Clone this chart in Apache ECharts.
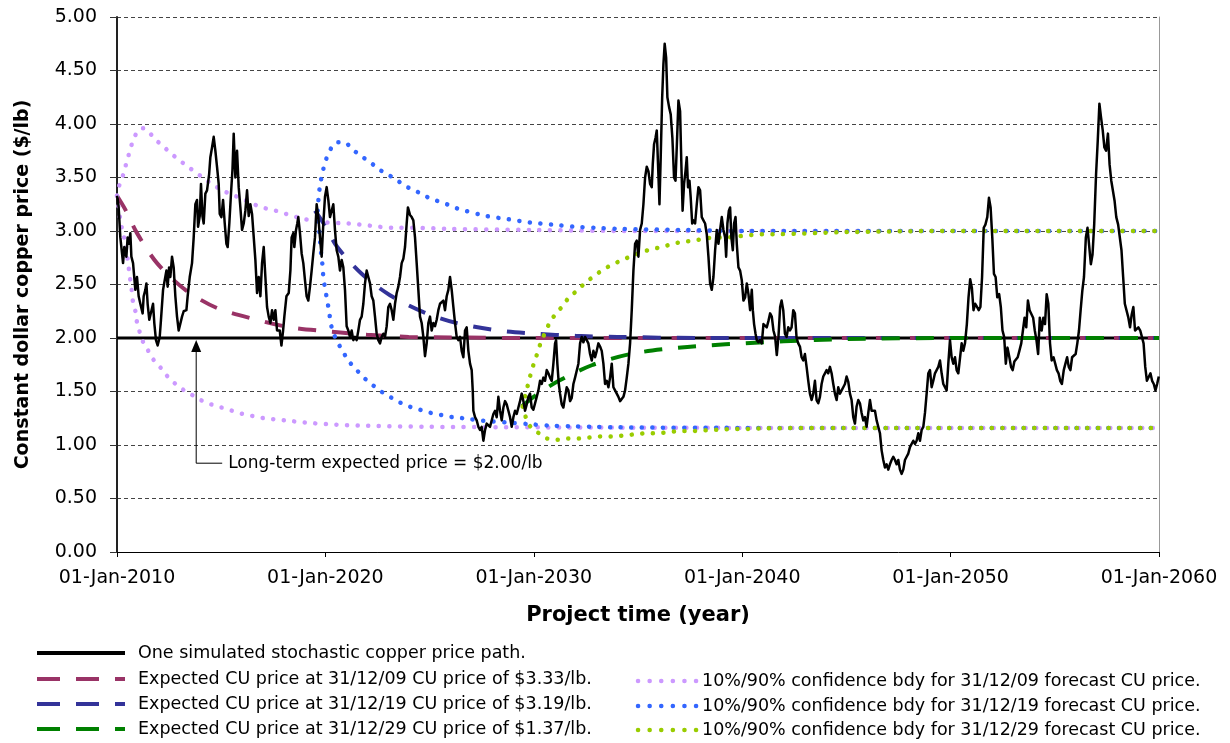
<!DOCTYPE html>
<html>
<head>
<meta charset="utf-8">
<script src="https://cdn.jsdelivr.net/npm/echarts@6/dist/echarts.min.js"></script>
<style>
  html, body { margin: 0; padding: 0; background: #fff; }
  #chart { width: 1230px; height: 743px; }
</style>
</head>
<body>
<div id="chart"></div>
<script>
// one simulated price path, [year, $/lb]
const pricePath = [
  [2010.00,3.33],[2010.03,3.30],[2010.08,3.22],[2010.16,2.94],[2010.29,2.70],[2010.35,2.85],[2010.45,2.76],[2010.51,2.94],[2010.58,2.88],[2010.64,2.98],[2010.69,2.76],[2010.77,2.70],[2010.88,2.45],[2010.96,2.57],[2011.04,2.39],[2011.12,2.32],[2011.23,2.23],[2011.28,2.39],[2011.36,2.45],[2011.41,2.51],[2011.47,2.32],[2011.55,2.17],[2011.63,2.17],[2011.73,2.32],[2011.79,2.14],[2011.87,1.98],[2011.95,1.93],[2012.05,2.01],[2012.11,2.17],[2012.21,2.45],[2012.29,2.54],[2012.37,2.63],[2012.43,2.48],[2012.50,2.66],[2012.56,2.57],[2012.64,2.76],[2012.72,2.66],[2012.80,2.39],[2012.88,2.20],[2012.96,2.07],[2013.04,2.06],[2013.12,2.20],[2013.20,2.25],[2013.33,2.26],[2013.39,2.39],[2013.49,2.57],[2013.60,2.70],[2013.68,2.94],[2013.76,3.25],[2013.84,3.29],[2013.89,3.04],[2013.97,3.14],[2014.03,3.44],[2014.10,3.14],[2014.16,3.07],[2014.24,3.35],[2014.32,3.38],[2014.42,3.53],[2014.48,3.69],[2014.56,3.78],[2014.64,3.88],[2014.72,3.75],[2014.80,3.60],[2014.88,3.44],[2014.93,3.16],[2015.01,3.13],[2015.09,3.29],[2015.17,3.07],[2015.25,2.88],[2015.31,2.85],[2015.39,3.07],[2015.47,3.35],[2015.54,3.57],[2015.60,3.91],[2015.68,3.50],[2015.76,3.75],[2015.84,3.41],[2015.92,3.22],[2016.00,3.01],[2016.08,3.07],[2016.16,3.19],[2016.24,3.38],[2016.32,3.14],[2016.40,3.25],[2016.48,3.16],[2016.56,3.17],[2016.64,2.73],[2016.72,2.42],[2016.80,2.57],[2016.88,2.39],[2016.96,2.70],[2017.04,2.85],[2017.12,2.57],[2017.20,2.29],[2017.28,2.20],[2017.36,2.14],[2017.44,2.26],[2017.52,2.17],[2017.60,2.26],[2017.68,2.07],[2017.81,2.07],[2017.89,1.93],[2017.97,2.07],[2018.03,2.20],[2018.13,2.39],[2018.24,2.42],[2018.32,2.63],
  [2018.38,2.94],[2018.46,2.98],[2018.51,2.85],[2018.59,3.01],[2018.65,3.07],[2018.70,3.13],[2018.78,2.98],[2018.86,2.79],[2018.94,2.70],[2019.02,2.54],[2019.10,2.39],[2019.18,2.35],[2019.26,2.48],[2019.34,2.63],[2019.42,2.79],[2019.50,2.94],[2019.58,3.25],[2019.66,3.13],[2019.74,2.94],[2019.82,2.76],[2019.90,3.07],[2019.98,3.32],[2020.06,3.41],[2020.14,3.29],[2020.22,3.13],[2020.30,3.13],[2020.38,3.25],[2020.46,3.01],[2020.54,2.82],[2020.62,2.76],[2020.70,2.63],[2020.78,2.73],[2020.86,2.66],[2020.94,2.45],[2021.02,2.11],[2021.10,2.07],[2021.18,2.01],[2021.26,2.07],[2021.34,1.98],[2021.42,2.01],[2021.50,1.98],[2021.58,2.07],[2021.66,2.17],[2021.74,2.20],[2021.82,2.32],[2021.90,2.51],[2021.98,2.63],[2022.06,2.57],[2022.14,2.51],[2022.22,2.39],[2022.30,2.35],[2022.38,2.20],[2022.46,2.04],[2022.54,1.98],[2022.62,1.95],[2022.70,2.01],[2022.78,2.04],[2022.86,2.01],[2022.94,2.11],[2023.02,2.29],[2023.10,2.32],[2023.18,2.26],[2023.26,2.17],[2023.34,2.32],[2023.42,2.42],[2023.50,2.48],[2023.58,2.57],[2023.66,2.70],[2023.74,2.74],[2023.82,2.85],[2023.90,3.07],[2023.96,3.22],[2024.06,3.15],[2024.14,3.13],[2024.22,3.10],[2024.30,2.94],[2024.38,2.70],[2024.46,2.45],[2024.54,2.20],[2024.62,2.14],[2024.70,2.01],[2024.78,1.83],[2024.86,1.95],[2024.94,2.14],[2025.02,2.20],[2025.10,2.07],[2025.18,2.14],[2025.26,2.11],[2025.34,2.17],[2025.42,2.26],[2025.50,2.32],[2025.58,2.32],[2025.66,2.35],[2025.74,2.26],[2025.82,2.39],[2025.90,2.45],[2025.98,2.57],[2026.06,2.45],[2026.14,2.29],[2026.22,2.14],[2026.30,2.01],[2026.38,1.98],[2026.46,2.01],
  [2026.54,1.88],[2026.62,1.82],[2026.70,2.07],[2026.78,2.10],[2026.86,1.88],[2026.94,1.76],[2027.02,1.70],[2027.07,1.51],[2027.10,1.32],[2027.18,1.26],[2027.26,1.23],[2027.34,1.17],[2027.42,1.14],[2027.50,1.17],[2027.58,1.04],[2027.66,1.14],[2027.74,1.20],[2027.82,1.19],[2027.90,1.17],[2027.98,1.16],[2028.06,1.29],[2028.14,1.32],[2028.22,1.26],[2028.30,1.45],[2028.38,1.32],[2028.46,1.23],[2028.54,1.35],[2028.62,1.41],[2028.70,1.38],[2028.78,1.32],[2028.86,1.26],[2028.94,1.17],[2029.02,1.26],[2029.10,1.32],[2029.18,1.29],[2029.26,1.35],[2029.34,1.41],[2029.42,1.48],[2029.50,1.41],[2029.58,1.32],[2029.66,1.38],[2029.74,1.45],[2029.82,1.48],[2029.90,1.35],[2029.98,1.33],[2030.06,1.32],[2030.14,1.45],[2030.22,1.51],[2030.30,1.60],[2030.38,1.57],[2030.46,1.63],[2030.54,1.60],[2030.62,1.70],[2030.70,1.67],[2030.78,1.63],[2030.86,1.60],[2030.94,1.76],[2031.02,1.95],[2031.07,1.98],[2031.13,1.76],[2031.20,1.57],[2031.26,1.48],[2031.34,1.38],[2031.42,1.35],[2031.50,1.45],[2031.58,1.54],[2031.66,1.51],[2031.74,1.41],[2031.82,1.44],[2031.90,1.57],[2031.98,1.63],[2032.06,1.63],[2032.14,1.76],[2032.22,1.95],[2032.30,2.01],[2032.38,1.96],[2032.46,2.01],[2032.54,2.02],[2032.62,1.95],[2032.70,1.85],[2032.78,1.79],[2032.86,1.88],[2032.94,1.82],[2033.02,1.88],[2033.10,1.95],[2033.18,1.92],[2033.26,1.88],[2033.34,1.76],[2033.42,1.57],[2033.50,1.60],[2033.58,1.54],[2033.66,1.63],[2033.74,1.76],[2033.82,1.54],[2033.90,1.51],[2033.98,1.51],[2034.06,1.45],[2034.14,1.41],[2034.22,1.41],[2034.30,1.45],[2034.38,1.51],[2034.46,1.63],[2034.54,1.76],[2034.62,1.95],
  [2034.70,2.26],[2034.78,2.63],[2034.86,2.88],[2034.94,2.91],[2035.02,2.76],[2035.10,3.01],[2035.18,3.07],[2035.26,3.25],[2035.34,3.50],[2035.42,3.60],[2035.50,3.56],[2035.58,3.44],[2035.66,3.41],[2035.71,3.63],[2035.77,3.81],[2035.84,3.87],[2035.90,3.94],[2035.96,3.63],[2036.03,3.25],[2036.09,3.69],[2036.16,4.25],[2036.22,4.56],[2036.28,4.75],[2036.35,4.62],[2036.41,4.25],[2036.49,4.16],[2036.57,4.09],[2036.65,3.87],[2036.73,3.50],[2036.80,3.47],[2036.86,3.78],[2036.94,4.22],[2037.02,4.12],[2037.08,3.63],[2037.14,3.19],[2037.21,3.44],[2037.28,3.56],[2037.34,3.69],[2037.40,3.41],[2037.47,3.47],[2037.53,3.31],[2037.60,3.07],[2037.66,3.10],[2037.74,3.07],[2037.82,3.25],[2037.90,3.41],[2037.98,3.38],[2038.06,3.13],[2038.14,3.10],[2038.22,3.07],[2038.30,2.97],[2038.38,2.76],[2038.46,2.51],[2038.54,2.45],[2038.62,2.57],[2038.70,2.82],[2038.78,3.01],[2038.86,2.88],[2038.94,3.01],[2039.02,3.13],[2039.10,3.01],[2039.18,2.94],[2039.23,2.76],[2039.29,3.07],[2039.36,3.19],[2039.42,3.22],[2039.48,2.94],[2039.55,2.82],[2039.61,3.07],[2039.68,3.13],[2039.74,2.88],[2039.82,2.66],[2039.90,2.63],[2039.98,2.54],[2040.06,2.35],[2040.14,2.38],[2040.22,2.51],[2040.30,2.41],[2040.38,2.26],[2040.46,2.45],[2040.51,2.26],[2040.57,2.13],[2040.64,2.04],[2040.70,1.98],[2040.78,1.96],[2040.86,1.98],[2040.94,1.95],[2041.02,2.13],[2041.10,2.13],[2041.18,2.10],[2041.26,2.16],[2041.34,2.23],[2041.42,2.20],[2041.50,2.07],[2041.58,2.01],[2041.66,1.84],[2041.74,2.01],[2041.82,2.29],
  [2041.89,2.35],[2041.97,2.26],[2042.05,2.04],[2042.13,2.01],[2042.21,2.10],[2042.29,2.07],[2042.37,2.10],[2042.45,2.26],[2042.53,2.23],[2042.61,2.00],[2042.69,1.95],[2042.77,1.92],[2042.85,1.82],[2042.93,1.79],[2043.01,1.85],[2043.09,1.73],[2043.17,1.60],[2043.25,1.48],[2043.33,1.42],[2043.41,1.48],[2043.49,1.60],[2043.57,1.42],[2043.65,1.39],[2043.73,1.45],[2043.81,1.57],[2043.89,1.64],[2043.97,1.67],[2044.05,1.70],[2044.13,1.67],[2044.21,1.73],[2044.29,1.67],[2044.37,1.57],[2044.45,1.48],[2044.53,1.42],[2044.61,1.54],[2044.69,1.48],[2044.77,1.51],[2044.85,1.54],[2044.93,1.57],[2045.01,1.64],[2045.09,1.59],[2045.17,1.48],[2045.25,1.42],[2045.33,1.26],[2045.41,1.20],[2045.49,1.36],[2045.57,1.42],[2045.65,1.39],[2045.73,1.30],[2045.81,1.23],[2045.89,1.26],[2045.97,1.17],[2046.05,1.30],[2046.13,1.42],[2046.21,1.32],[2046.29,1.32],[2046.37,1.32],[2046.45,1.23],[2046.53,1.17],[2046.61,1.11],[2046.69,0.95],[2046.77,0.86],[2046.85,0.79],[2046.93,0.82],[2047.01,0.77],[2047.09,0.82],[2047.17,0.86],[2047.25,0.89],[2047.33,0.86],[2047.41,0.82],[2047.49,0.86],[2047.57,0.77],[2047.65,0.73],[2047.73,0.77],[2047.81,0.86],[2047.89,0.89],[2047.97,0.92],[2048.05,0.98],[2048.13,0.97],[2048.21,1.04],[2048.29,1.01],[2048.37,1.04],[2048.45,1.11],[2048.53,1.04],[2048.61,1.14],[2048.69,1.17],[2048.77,1.30],[2048.85,1.48],[2048.93,1.67],[2049.01,1.70],[2049.09,1.54],[2049.17,1.60],[2049.25,1.67],[2049.33,1.70],[2049.41,1.73],[2049.49,1.79],[2049.57,1.67],[2049.65,1.57],[2049.73,1.57],[2049.81,1.51],[2049.89,1.76],[2049.97,1.98],[2050.05,1.82],[2050.13,1.76],[2050.21,1.82],[2050.29,1.70],[2050.37,1.67],
  [2050.53,1.95],[2050.61,1.88],[2050.69,1.95],[2050.78,2.13],[2050.86,2.38],[2050.94,2.55],[2051.02,2.47],[2051.10,2.26],[2051.18,2.32],[2051.27,2.29],[2051.35,2.26],[2051.43,2.29],[2051.51,2.57],[2051.59,3.03],[2051.67,3.06],[2051.76,3.13],[2051.84,3.31],[2051.92,3.22],[2052.00,2.94],[2052.08,2.60],[2052.16,2.57],[2052.24,2.38],[2052.33,2.41],[2052.41,2.29],[2052.49,2.07],[2052.57,2.01],[2052.65,1.76],[2052.73,1.91],[2052.82,1.82],[2052.90,1.73],[2052.98,1.70],[2053.06,1.78],[2053.14,1.79],[2053.22,1.82],[2053.30,1.88],[2053.39,1.95],[2053.47,2.07],[2053.55,2.19],[2053.63,2.10],[2053.71,2.35],[2053.79,2.26],[2053.88,2.27],[2053.96,2.19],[2054.04,2.07],[2054.12,1.98],[2054.20,1.85],[2054.28,2.19],[2054.37,2.07],[2054.45,2.19],[2054.53,2.13],[2054.61,2.41],[2054.69,2.32],[2054.77,1.95],[2054.85,1.79],[2054.94,1.82],[2055.02,1.76],[2055.10,1.70],[2055.18,1.67],[2055.26,1.60],[2055.34,1.57],[2055.43,1.70],[2055.51,1.76],[2055.59,1.82],[2055.67,1.73],[2055.75,1.70],[2055.83,1.82],[2055.92,1.82],[2056.00,1.85],[2056.08,1.95],[2056.16,2.07],[2056.24,2.26],[2056.32,2.44],[2056.40,2.57],[2056.49,2.94],[2056.57,3.03],[2056.65,3.03],[2056.73,2.69],[2056.81,2.78],[2056.89,3.06],[2056.98,3.53],[2057.06,3.84],[2057.14,4.19],[2057.22,4.06],[2057.30,3.94],[2057.38,3.78],[2057.46,3.75],[2057.55,3.91],[2057.63,3.62],[2057.71,3.47],[2057.79,3.47],[2057.87,3.28],[2057.95,3.13],[2058.04,3.06],[2058.12,3.06],[2058.20,2.82],[2058.28,2.57],[2058.36,2.32],[2058.44,2.32],[2058.53,2.19],[2058.61,2.10],[2058.69,2.22],[2058.77,2.29],[2058.85,2.07],[2058.93,2.07],[2059.01,2.10],[2059.10,2.07],[2059.18,2.01],[2059.26,1.95],[2059.34,1.73],[2059.42,1.60],[2059.51,1.61],[2059.59,1.67],[2059.67,1.60],[2059.75,1.57],[2059.83,1.51],[2059.91,1.57],[2059.99,1.64]
];

// expected price curves
const expected09 = [[2010.00,3.33],[2010.40,3.20],[2010.96,2.98],[2011.92,2.70],[2013.28,2.45],[2014.80,2.28],[2016.72,2.17],[2018.30,2.10],[2020.22,2.06],[2022.00,2.03],[2024.00,2.01],[2026.00,2.005],[2030.00,2.00],[2060.00,2.00]];
const expected19 = [[2019.50,3.19],[2019.98,3.05],[2020.57,2.85],[2021.74,2.60],[2023.10,2.40],[2024.73,2.24],[2026.30,2.14],[2028.30,2.07],[2030.10,2.04],[2032.00,2.02],[2034.00,2.01],[2038.00,2.00],[2060.00,2.00]];
const expected29 = [[2029.42,1.36],[2030.14,1.47],[2031.20,1.60],[2032.84,1.75],[2034.62,1.85],[2036.44,1.90],[2038.30,1.93],[2040.10,1.95],[2042.00,1.97],[2045.00,1.99],[2050.00,2.00],[2060.00,2.00]];

// 10% / 90% confidence boundaries
const band09Upper = [[2010.00,3.33],[2010.10,3.42],[2010.27,3.51],[2010.40,3.60],[2010.53,3.69],[2010.66,3.78],[2010.80,3.86],[2011.02,3.94],[2011.25,3.96],[2011.47,3.94],[2011.81,3.86],[2012.17,3.80],[2012.56,3.73],[2012.94,3.67],[2013.34,3.61],[2013.76,3.55],[2014.19,3.49],[2014.62,3.43],[2015.05,3.38],[2015.52,3.34],[2016.00,3.30],[2016.46,3.26],[2016.94,3.22],[2017.44,3.20],[2017.93,3.17],[2018.46,3.14],[2018.97,3.11],[2019.50,3.10],[2020.03,3.08],[2021.10,3.07],[2022.14,3.05],[2023.20,3.03],[2024.25,3.03],[2025.87,3.02],[2030.00,3.01],[2035.00,3.00],[2060.00,3.00]];
const band09Lower = [[2010.00,3.33],[2010.14,3.13],[2010.23,3.03],[2010.34,2.94],[2010.43,2.85],[2010.54,2.69],[2010.62,2.57],[2010.71,2.44],[2010.78,2.32],[2010.91,2.23],[2010.97,2.13],[2011.10,2.05],[2011.26,1.96],[2011.50,1.88],[2011.74,1.80],[2012.06,1.73],[2012.38,1.65],[2012.75,1.58],[2013.15,1.52],[2013.58,1.47],[2014.02,1.42],[2014.51,1.38],[2015.02,1.35],[2015.52,1.32],[2016.03,1.29],[2016.54,1.27],[2017.07,1.25],[2017.58,1.24],[2018.11,1.23],[2019.00,1.21],[2020.50,1.19],[2022.00,1.18],[2025.00,1.17],[2030.00,1.165],[2040.00,1.16],[2060.00,1.16]];
const band19Upper = [[2019.62,3.19],[2019.71,3.38],[2019.77,3.46],[2019.87,3.55],[2019.98,3.64],[2020.14,3.72],[2020.30,3.78],[2020.60,3.83],[2020.91,3.83],[2021.26,3.77],[2021.71,3.70],[2022.11,3.65],[2022.54,3.58],[2022.97,3.53],[2023.40,3.48],[2023.83,3.42],[2024.29,3.38],[2024.75,3.33],[2025.23,3.29],[2025.71,3.26],[2026.19,3.22],[2026.70,3.19],[2027.74,3.14],[2028.78,3.11],[2029.82,3.08],[2030.87,3.06],[2031.93,3.04],[2032.98,3.03],[2034.05,3.02],[2037.00,3.01],[2040.00,3.00],[2060.00,3.00]];
const band19Lower = [[2019.62,3.19],[2019.66,3.07],[2019.71,2.99],[2019.74,2.92],[2019.77,2.83],[2019.82,2.75],[2019.87,2.66],[2019.90,2.57],[2019.98,2.47],[2020.06,2.38],[2020.14,2.29],[2020.22,2.19],[2020.30,2.10],[2020.46,2.01],[2020.70,1.92],[2020.94,1.84],[2021.18,1.77],[2021.55,1.69],[2021.90,1.62],[2022.27,1.56],[2022.67,1.50],[2023.10,1.45],[2023.55,1.40],[2024.03,1.36],[2024.54,1.33],[2025.05,1.30],[2025.58,1.28],[2026.11,1.26],[2026.62,1.25],[2027.66,1.225],[2028.73,1.21],[2029.78,1.195],[2030.86,1.18],[2031.90,1.175],[2032.98,1.17],[2034.05,1.165],[2040.00,1.16],[2060.00,1.16]];
const band29Upper = [[2029.47,1.36],[2029.58,1.45],[2029.69,1.54],[2029.82,1.64],[2029.95,1.73],[2030.09,1.81],[2030.22,1.89],[2030.38,1.98],[2030.59,2.07],[2030.78,2.15],[2031.07,2.23],[2031.39,2.30],[2031.69,2.38],[2032.06,2.44],[2032.44,2.51],[2032.83,2.57],[2033.26,2.63],[2033.70,2.68],[2034.15,2.72],[2034.62,2.76],[2035.14,2.80],[2035.66,2.83],[2036.15,2.85],[2036.66,2.88],[2037.17,2.90],[2037.70,2.91],[2038.23,2.93],[2038.76,2.94],[2039.30,2.94],[2039.81,2.95],[2040.34,2.96],[2040.89,2.97],[2041.42,2.97],[2045.00,2.99],[2050.00,3.00],[2060.00,3.00]];
const band29Lower = [[2029.47,1.36],[2029.58,1.28],[2029.74,1.20],[2029.98,1.14],[2030.25,1.11],[2030.65,1.06],[2031.15,1.05],[2031.66,1.06],[2032.18,1.06],[2032.70,1.07],[2033.26,1.08],[2033.79,1.08],[2034.33,1.09],[2034.86,1.10],[2035.38,1.11],[2035.93,1.11],[2036.45,1.12],[2036.98,1.13],[2037.53,1.13],[2038.06,1.135],[2038.58,1.14],[2039.13,1.145],[2039.66,1.15],[2040.19,1.15],[2040.72,1.155],[2045.00,1.16],[2060.00,1.16]];

// long-term level and its note
const longTermYears = [2010, 2060];
const longTermPrice = 2.00;
const noteYear = 2013.8;
const noteBase = 0.83;
const noteText = 'Long-term expected price = $2.00/lb';

const names = {
  path: 'One simulated stochastic copper price path.',
  e09: 'Expected CU price at 31/12/09 CU price of $3.33/lb.',
  e19: 'Expected CU price at 31/12/19 CU price of $3.19/lb.',
  e29: 'Expected CU price at 31/12/29 CU price of $1.37/lb.',
  b09: '10%/90% confidence bdy for 31/12/09 forecast CU price.',
  b19: '10%/90% confidence bdy for 31/12/19 forecast CU price.',
  b29: '10%/90% confidence bdy for 31/12/29 forecast CU price.'
};
const colors = {
  path: '#000', e09: '#993366', e19: '#333399', e29: '#008000',
  b09: '#cc99ff', b19: '#3366ff', b29: '#99cc00'
};

const FONT = 'DejaVu Sans';
const DASH = [18, 16];
const DOT = [0.1, 10.5];

function dashed(key, data) {
  return {
    name: names[key], type: 'line', data, symbol: 'none', smooth: 0.3,
    lineStyle: { color: colors[key], width: 4, type: DASH },
    itemStyle: { color: colors[key] }
  };
}
function dotted(key, data) {
  return {
    name: names[key], type: 'line', data, symbol: 'none', smooth: 0.3,
    lineStyle: { color: colors[key], width: 4.5, type: DOT, cap: 'round' },
    itemStyle: { color: colors[key] }
  };
}

// legend rows: text from the legend component, samples drawn as plain lines
const legendRows = [
  { key: 'path', left: 37, y: 653, w: 88, style: 'solid' },
  { key: 'e09', left: 37, y: 679, w: 88, style: 'dash' },
  { key: 'e19', left: 37, y: 704, w: 88, style: 'dash' },
  { key: 'e29', left: 37, y: 729, w: 88, style: 'dash' },
  { key: 'b09', left: 636, y: 681, w: 61, style: 'dot' },
  { key: 'b19', left: 636, y: 706, w: 61, style: 'dot' },
  { key: 'b29', left: 636, y: 730, w: 61, style: 'dot' }
];
function legendRow(r) {
  return {
    left: r.left, top: r.y - 10, orient: 'vertical', padding: 0,
    itemWidth: r.w, itemHeight: 14, icon: 'none',
    textStyle: { fontFamily: FONT, fontSize: 17.5, lineHeight: 20, color: '#000', padding: [0, 0, 0, r.w > 70 ? 8 : 0] },
    data: [names[r.key]]
  };
}
function legendSample(r) {
  const s = { stroke: colors[r.key], lineWidth: 4 };
  let x1 = r.left, x2 = r.left + r.w;
  if (r.style === 'dash') { s.lineDash = [23, 16]; }
  if (r.style === 'dot') { s.lineDash = [0.1, 11.5]; s.lineCap = 'round'; s.lineWidth = 4.5; x1 += 2; }
  return { type: 'line', silent: true, shape: { x1, y1: r.y, x2, y2: r.y }, style: s };
}

const chart = echarts.init(document.getElementById('chart'), null, { renderer: 'canvas' });

chart.setOption({
  animation: false,
  backgroundColor: '#fff',
  textStyle: { fontFamily: FONT, color: '#000' },
  grid: { left: 117, right: 71, top: 17, bottom: 191 },
  legend: legendRows.map(legendRow),
  xAxis: {
    type: 'value', min: 2010, max: 2060, interval: 10,
    name: 'Project time (year)', nameLocation: 'middle', nameGap: 53,
    nameTextStyle: { fontFamily: FONT, fontWeight: 'bold', fontSize: 21, color: '#000' },
    axisLine: { lineStyle: { color: '#000', width: 1 } },
    axisTick: { show: true, length: 5, lineStyle: { color: '#000' } },
    axisLabel: {
      fontFamily: FONT, fontSize: 19, color: '#000', margin: 17,
      formatter: v => '01-Jan-' + v
    },
    splitLine: { show: false }
  },
  yAxis: [
    {
      type: 'value', min: 0, max: 5, interval: 0.5,
      name: 'Constant dollar copper price ($/lb)', nameLocation: 'middle', nameGap: 84, nameRotate: 90,
      nameTextStyle: { fontFamily: FONT, fontWeight: 'bold', fontSize: 19, color: '#000' },
      axisLine: { show: true, lineStyle: { color: '#222', width: 2 } },
      axisTick: { show: true, length: 7, lineStyle: { color: '#333' } },
      axisLabel: {
        fontFamily: FONT, fontSize: 19, color: '#000', margin: 20,
        formatter: v => v.toFixed(2)
      },
      splitLine: { show: true, lineStyle: { color: '#444', width: 1, type: [4, 3] } }
    },
    {
      type: 'value', min: 0, max: 5, position: 'right',
      axisLine: { show: true, lineStyle: { color: '#999', width: 1 } },
      axisTick: { show: false }, axisLabel: { show: false }, splitLine: { show: false }
    }
  ],
  series: [
    {
      name: 'long-term', type: 'line', symbol: 'none',
      data: longTermYears.map(y => [y, longTermPrice]),
      lineStyle: { color: '#000', width: 3 }
    },
    dashed('e09', expected09),
    dashed('e19', expected19),
    dashed('e29', expected29),
    dotted('b09', band09Upper),
    dotted('b09', band09Lower),
    dotted('b19', band19Upper),
    dotted('b19', band19Lower),
    dotted('b29', band29Upper),
    dotted('b29', band29Lower),
    {
      name: names.path, type: 'line', symbol: 'none', data: pricePath,
      lineStyle: { color: '#000', width: 2.5, join: 'round' },
      itemStyle: { color: '#000' }
    }
  ]
});

// arrow note pointing at the long-term level
const tip = chart.convertToPixel({ gridIndex: 0 }, [noteYear, longTermPrice]);
const base = chart.convertToPixel({ gridIndex: 0 }, [noteYear, noteBase]);
const tipY = tip[1] + 2;
chart.setOption({
  graphic: legendRows.map(legendSample).concat([
    {
      type: 'polyline',
      shape: { points: [[base[0] + 26, base[1]], [base[0], base[1]], [base[0], tipY + 11]] },
      style: { stroke: '#000', lineWidth: 1, fill: null }
    },
    {
      type: 'polygon',
      shape: { points: [[base[0], tipY], [base[0] - 5, tipY + 12], [base[0] + 5, tipY + 12]] },
      style: { fill: '#000' }
    },
    {
      type: 'text', x: base[0] + 32, y: base[1],
      style: { text: noteText, font: '17px "DejaVu Sans"', fill: '#000', verticalAlign: 'middle' }
    }
  ])
});
</script>
</body>
</html>
